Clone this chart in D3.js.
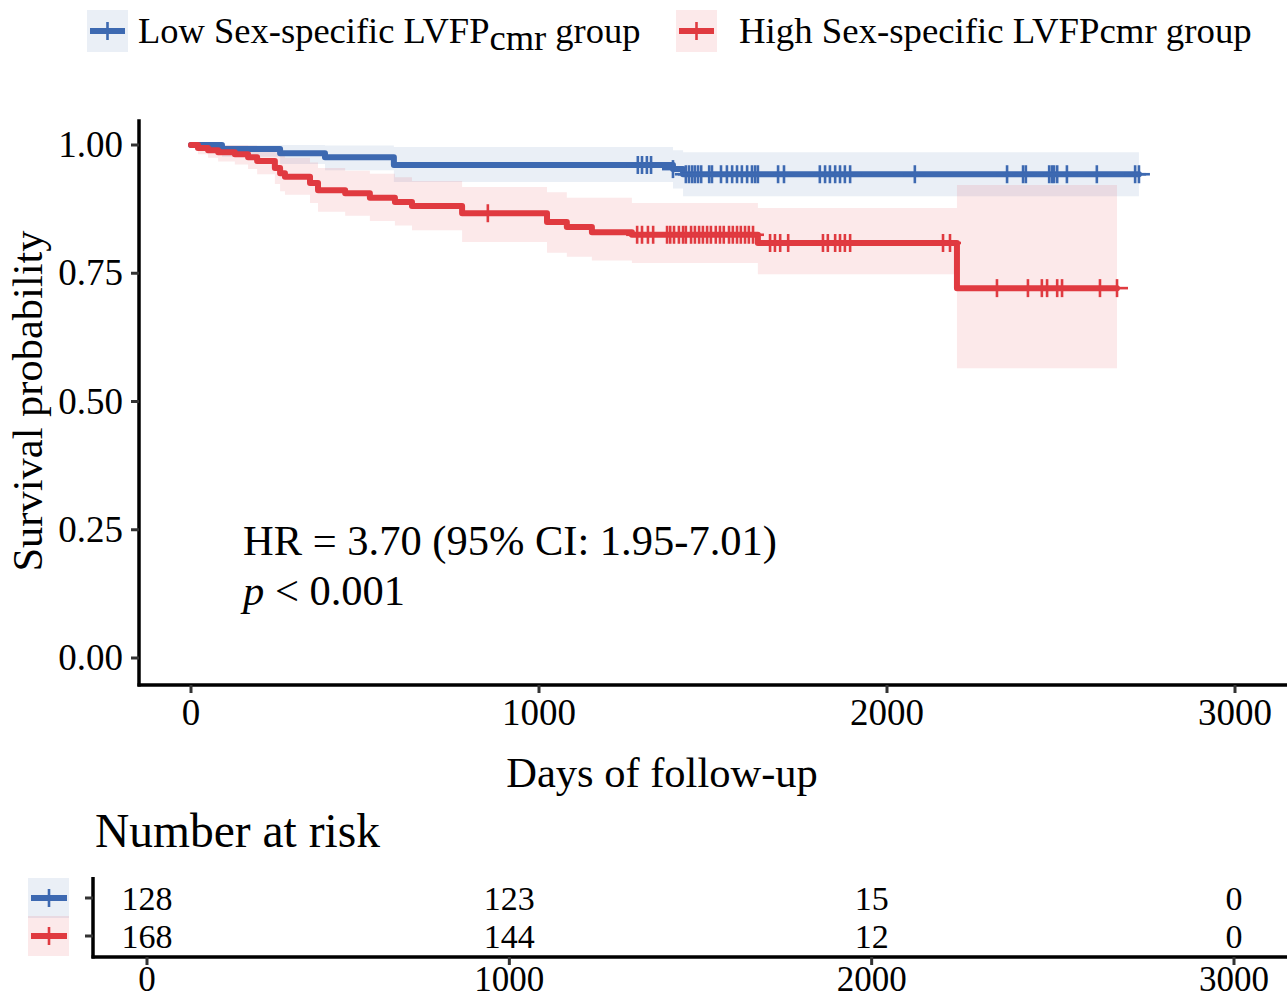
<!DOCTYPE html>
<html>
<head>
<meta charset="utf-8">
<script src="https://cdn.jsdelivr.net/npm/d3@7"></script>
<style>
  body { margin: 0; background: #fff; }
  text { font-family: "Liberation Serif", "Times New Roman", serif; fill: #000; }
</style>
</head>
<body>
<div class="bg"></div>
<script>
// Kaplan-Meier steps
const lowTime  = [0, 89, 256, 385, 583, 1385, 1414];
const lowSurv  = [1, 0.992, 0.984, 0.976, 0.961, 0.953, 0.943];
const lowUpper = [1, 1, 1, 0.999, 0.996, 0.990, 0.986];
const lowLower = [1, 0.977, 0.963, 0.951, 0.928, 0.915, 0.900];
const lowCensor = [1284, 1296, 1310, 1322, 1385, 1422, 1431, 1440, 1448, 1457, 1466, 1489, 1497,
  1523, 1540, 1555, 1569, 1583, 1598, 1612, 1621, 1629, 1687, 1704, 1807, 1822, 1836, 1851,
  1865, 1879, 1894, 2080, 2345, 2391, 2399, 2466, 2474, 2480, 2489, 2517, 2603, 2713, 2724];

const highTime  = [0, 20, 49, 78, 126, 164, 190, 241, 256, 270, 342, 365, 443, 514, 586, 635, 779,
  1023, 1080, 1152, 1267, 1629, 2201];
const highSurv  = [1, 0.994, 0.990, 0.986, 0.982, 0.976, 0.969, 0.955, 0.945, 0.938, 0.926, 0.912,
  0.906, 0.897, 0.889, 0.881, 0.867, 0.850, 0.840, 0.830, 0.825, 0.809, 0.721];
const highUpper = [1, 1, 1, 1, 1, 0.999, 0.996, 0.986, 0.979, 0.975, 0.966, 0.955, 0.950, 0.944,
  0.937, 0.930, 0.918, 0.908, 0.897, 0.897, 0.887, 0.877, 0.922];
const highLower = [1, 0.982, 0.975, 0.968, 0.962, 0.953, 0.943, 0.924, 0.910, 0.903, 0.887, 0.870,
  0.862, 0.852, 0.843, 0.834, 0.811, 0.790, 0.782, 0.775, 0.770, 0.748, 0.565];
const highCensor = [853, 1282, 1296, 1313, 1328, 1368, 1377, 1388, 1402, 1414, 1422, 1437, 1448,
  1460, 1471, 1483, 1494, 1508, 1520, 1531, 1546, 1557, 1569, 1580, 1592, 1603, 1615, 1664,
  1678, 1693, 1716, 1816, 1830, 1851, 1865, 1879, 1894, 2161, 2181, 2316, 2405, 2445, 2460,
  2489, 2503, 2612, 2661];

const xTicks = [0, 1000, 2000, 3000];
const yTicks = [0, 0.25, 0.5, 0.75, 1];
const riskTimes = [0, 1000, 2000, 3000];
const lowRisk = [128, 123, 15, 0];
const highRisk = [168, 144, 12, 0];

const blue = "#3d69b1";
const red = "#e03a40";

const svg = d3.select(".bg").append("svg")
  .attr("width", 1287)
  .attr("height", 1001);

const x = d3.scaleLinear().domain([0, 3000]).range([191, 1235]);
const y = d3.scaleLinear().domain([0, 1]).range([658, 145]);

function buildSeries(time, surv, up, lo, censor) {
  const pts = time.map((t, i) => ({ t: t, s: surv[i], up: up[i], lo: lo[i] }));
  const last = pts[pts.length - 1];
  pts.push({ t: d3.max(censor), s: last.s, up: last.up, lo: last.lo });
  return pts;
}

function survAt(pts, t) {
  let s = 1;
  pts.forEach(p => { if (p.t <= t) s = p.s; });
  return s;
}

const groups = [
  { key: "low", color: blue, pts: buildSeries(lowTime, lowSurv, lowUpper, lowLower, lowCensor), censor: lowCensor },
  { key: "high", color: red, pts: buildSeries(highTime, highSurv, highUpper, highLower, highCensor), censor: highCensor }
];

// confidence bands
const band = d3.area().curve(d3.curveStepAfter)
  .x(d => x(d.t)).y0(d => y(d.lo)).y1(d => y(d.up));
groups.forEach(g => {
  svg.append("path").attr("d", band(g.pts))
    .attr("fill", g.color).attr("fill-opacity", 0.11);
});

// survival curves
const line = d3.line().curve(d3.curveStepAfter).x(d => x(d.t)).y(d => y(d.s));
groups.forEach(g => {
  svg.append("path").attr("d", line(g.pts))
    .attr("fill", "none").attr("stroke", g.color)
    .attr("stroke-width", 6).attr("stroke-linejoin", "round").attr("stroke-linecap", "round");
});

// censor marks
groups.forEach(g => {
  const cg = svg.append("g").attr("stroke", g.color).attr("stroke-width", 2.6);
  g.censor.forEach(t => {
    const cx = x(t), cy = y(survAt(g.pts, t));
    cg.append("line").attr("x1", cx).attr("x2", cx).attr("y1", cy - 9).attr("y2", cy + 9);
    cg.append("line").attr("x1", cx - 11).attr("x2", cx + 11).attr("y1", cy).attr("y2", cy);
  });
});

// axes
const axisX = 139, axisY = 685;
svg.append("line").attr("x1", axisX).attr("x2", axisX)
  .attr("y1", y(1.05)).attr("y2", axisY + 1.5)
  .attr("stroke", "#000").attr("stroke-width", 3.5);
svg.append("line").attr("x1", axisX - 1.5).attr("x2", 1287)
  .attr("y1", axisY).attr("y2", axisY)
  .attr("stroke", "#000").attr("stroke-width", 3.5);

yTicks.forEach(v => {
  svg.append("line").attr("x1", axisX - 8).attr("x2", axisX)
    .attr("y1", y(v)).attr("y2", y(v)).attr("stroke", "#333").attr("stroke-width", 3);
  svg.append("text").attr("x", axisX - 16).attr("y", y(v) + 12)
    .attr("text-anchor", "end").attr("font-size", 37).text(v.toFixed(2));
});
xTicks.forEach(v => {
  svg.append("line").attr("x1", x(v)).attr("x2", x(v))
    .attr("y1", axisY).attr("y2", axisY + 8).attr("stroke", "#333").attr("stroke-width", 3);
  svg.append("text").attr("x", x(v)).attr("y", axisY + 40)
    .attr("text-anchor", "middle").attr("font-size", 37).text(v);
});

svg.append("text").attr("x", 662).attr("y", 787)
  .attr("text-anchor", "middle").attr("font-size", 42.5).text("Days of follow-up");
svg.append("text").attr("transform", "translate(42,401) rotate(-90)")
  .attr("text-anchor", "middle").attr("font-size", 42.5).text("Survival probability");

// annotation
svg.append("text").attr("x", 243).attr("y", 555).attr("font-size", 42.5)
  .text("HR = 3.70 (95% CI: 1.95-7.01)");
const pt = svg.append("text").attr("x", 243).attr("y", 605).attr("font-size", 42.5);
pt.append("tspan").attr("font-style", "italic").text("p");
pt.append("tspan").text(" < 0.001");

// legend
function legendKey(x0, color) {
  svg.append("rect").attr("x", x0).attr("y", 10).attr("width", 41).attr("height", 42)
    .attr("fill", color).attr("fill-opacity", 0.11);
  svg.append("line").attr("x1", x0 + 3).attr("x2", x0 + 38).attr("y1", 31).attr("y2", 31)
    .attr("stroke", color).attr("stroke-width", 6);
  svg.append("line").attr("x1", x0 + 20.5).attr("x2", x0 + 20.5).attr("y1", 22).attr("y2", 40)
    .attr("stroke", color).attr("stroke-width", 2.6);
}
legendKey(87, blue);
legendKey(676, red);
const l1 = svg.append("text").attr("x", 138).attr("y", 43).attr("font-size", 36.5);
l1.append("tspan").text("Low Sex-specific LVFP");
l1.append("tspan").attr("dy", 7).text("cmr");
l1.append("tspan").attr("dy", -7).text(" group");
svg.append("text").attr("x", 739).attr("y", 43).attr("font-size", 36.8)
  .text("High Sex-specific LVFPcmr group");

// risk table
svg.append("text").attr("x", 95).attr("y", 847).attr("font-size", 47.5).text("Number at risk");

const xr = d3.scaleLinear().domain([0, 3000]).range([147, 1234]);
const yr = d3.scalePoint().domain(["low", "high"]).range([898, 936]);
const rAxisX = 93, rAxisY = 957;

svg.append("line").attr("x1", rAxisX).attr("x2", rAxisX).attr("y1", 877).attr("y2", rAxisY + 1.5)
  .attr("stroke", "#000").attr("stroke-width", 3.5);
svg.append("line").attr("x1", rAxisX - 1.5).attr("x2", 1287).attr("y1", rAxisY).attr("y2", rAxisY)
  .attr("stroke", "#000").attr("stroke-width", 3.5);

groups.forEach(g => {
  const cy = yr(g.key);
  svg.append("line").attr("x1", rAxisX - 8).attr("x2", rAxisX).attr("y1", cy).attr("y2", cy)
    .attr("stroke", "#333").attr("stroke-width", 3);
  svg.append("rect").attr("x", 28).attr("y", cy - 20).attr("width", 41).attr("height", 40)
    .attr("fill", g.color).attr("fill-opacity", 0.11);
  svg.append("line").attr("x1", 31).attr("x2", 67).attr("y1", cy).attr("y2", cy)
    .attr("stroke", g.color).attr("stroke-width", 6);
  svg.append("line").attr("x1", 49).attr("x2", 49).attr("y1", cy - 9).attr("y2", cy + 9)
    .attr("stroke", g.color).attr("stroke-width", 2.6);
});

const riskRows = { low: lowRisk, high: highRisk };
Object.keys(riskRows).forEach(k => {
  riskRows[k].forEach((n, i) => {
    svg.append("text").attr("x", xr(riskTimes[i])).attr("y", yr(k) + 12)
      .attr("text-anchor", "middle").attr("font-size", 34).text(n);
  });
});

riskTimes.forEach(v => {
  svg.append("line").attr("x1", xr(v)).attr("x2", xr(v)).attr("y1", rAxisY).attr("y2", rAxisY + 8)
    .attr("stroke", "#333").attr("stroke-width", 3);
  svg.append("text").attr("x", xr(v)).attr("y", 991)
    .attr("text-anchor", "middle").attr("font-size", 35).text(v);
});
</script>
</body>
</html>
